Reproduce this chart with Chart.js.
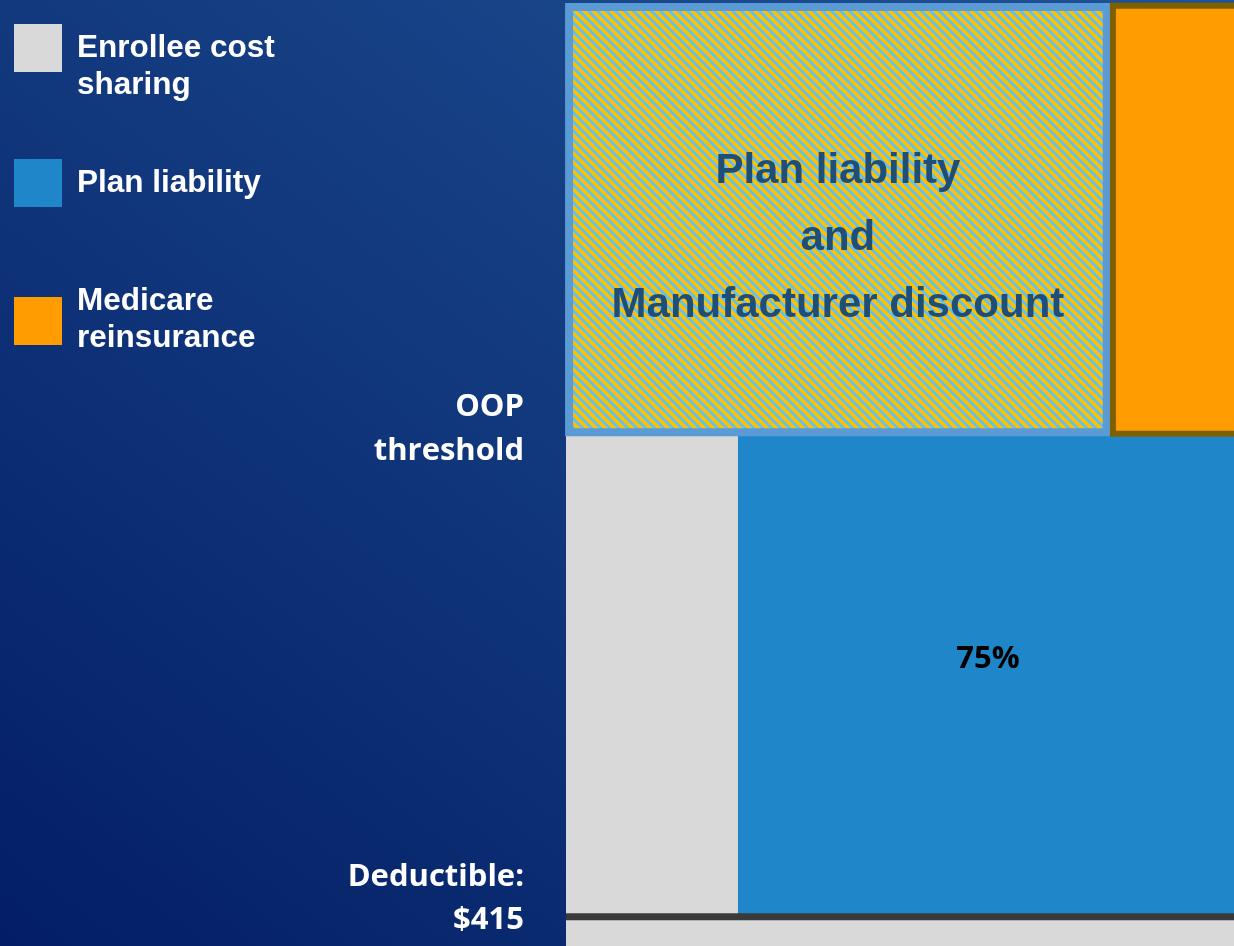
<!DOCTYPE html>
<html><head><meta charset="utf-8">
<script src="https://cdn.jsdelivr.net/npm/chart.js@4.4.1/dist/chart.umd.min.js"></script>
<style>
html,body{margin:0;padding:0;}
body{width:1234px;height:946px;overflow:hidden;position:relative;
 background:linear-gradient(to top right,#031e65 0%,#215396 100%);}
#wrap{position:absolute;left:0;top:0;width:1234px;height:946px;}
#legend{position:absolute;left:0;top:0;font-family:"Liberation Sans",Arial,sans-serif;font-weight:bold;color:#fff;font-size:31.5px;line-height:37px;}
.item{position:absolute;left:14px;}
.box{position:absolute;left:0;top:0;width:48px;height:48px;}
.txt{position:absolute;left:63px;white-space:nowrap;}
</style></head><body>
<div id="wrap"><canvas id="c" width="1234" height="946"></canvas></div>
<div id="legend"></div>
<script>
// ---- data ----
const seriesNames = ["Enrollee cost sharing", "Plan liability", "Medicare reinsurance"];
const legendLines = [["Enrollee cost", "sharing"], ["Plan liability"], ["Medicare", "reinsurance"]];
const seriesColors = ["#d9d9d9", "#1f87c9", "#ff9c00"];
// horizontal axis: share of spending (%), visible part of the slide
const shareAxis = [0, 97.1];
const initialShares = [25, 75];           // enrollee, plan (between deductible and OOP threshold)
// vertical axis: schematic spending levels
const spendAxis = [0, 200];
const tierLevels = [0, 6.2, 107.8];       // bottom, deductible, OOP threshold
const upperBoxX = [0.45, 78.6];           // plan liability + manufacturer discount
const upperBoxY = [108.6, 198.5];
const reinsBoxX = [79.5, 100];            // Medicare reinsurance
const reinsBoxY = [108.3, 198.8];
const tickLabels = [["OOP", "threshold"], ["Deductible:", "$415"]];
const tickLabelLevels = [112.1, 12.7];
const shareLabelLevel = 58.8;
const upperBoxText = ["Plan liability", "and", "Manufacturer discount"];
const upperBoxTextLevel = 161.3;

// ---- legend (HTML) ----
const legendTops = [24, 159, 297];
const legendTextOffsets = [4, 4, -16];
const lg = document.getElementById('legend');
seriesNames.forEach((name, i) => {
  const it = document.createElement('div');
  it.className = 'item'; it.style.top = legendTops[i] + 'px'; it.title = name;
  const b = document.createElement('div'); b.className = 'box'; b.style.background = seriesColors[i];
  const t = document.createElement('div'); t.className = 'txt'; t.style.top = legendTextOffsets[i] + 'px';
  t.innerHTML = legendLines[i].join('<br>');
  it.appendChild(b); it.appendChild(t); lg.appendChild(it);
});

// ---- helpers ----
function rect(x0, x1, y0, y1) {
  return [{x: x0, y: y1}, {x: x1, y: y1}, {x: x1, y: y0}, {x: x0, y: y0}, {x: x0, y: y1}];
}
const canvas = document.getElementById('c');
function makeHatch() {
  const n = 9, c = document.createElement('canvas'); c.width = n; c.height = n;
  const g = c.getContext('2d'); const img = g.createImageData(n, n);
  for (let y = 0; y < n; y++) for (let x = 0; x < n; x++) {
    const k = (((x - y) % n) + n) % n; const p = (y * n + x) * 4;
    const col = k < 4 ? [97, 193, 240] : [255, 192, 0];
    img.data[p] = col[0]; img.data[p + 1] = col[1]; img.data[p + 2] = col[2]; img.data[p + 3] = 255;
  }
  g.putImageData(img, 0, 0);
  return canvas.getContext('2d').createPattern(c, 'repeat');
}
const hatch = makeHatch();

const base = {type: 'line', pointRadius: 0, tension: 0, clip: false, borderJoinStyle: 'miter', borderCapStyle: 'square'};
const datasets = [
  Object.assign({}, base, {label: 'Deductible', data: [{x: 0, y: tierLevels[1]}, {x: 100, y: tierLevels[1]}],
    borderColor: '#3a3a3a', borderWidth: 7, borderCapStyle: 'butt', fill: false}),
  Object.assign({}, base, {label: seriesNames[2], data: rect(reinsBoxX[0], reinsBoxX[1], reinsBoxY[0], reinsBoxY[1]),
    backgroundColor: seriesColors[2], borderColor: '#7f6000', borderWidth: 6, fill: 'shape'}),
  Object.assign({}, base, {label: 'Plan liability and Manufacturer discount', data: rect(upperBoxX[0], upperBoxX[1], upperBoxY[0], upperBoxY[1]),
    backgroundColor: hatch, borderColor: '#5b9bd5', borderWidth: 8, fill: 'shape'}),
  Object.assign({}, base, {label: seriesNames[1], data: rect(initialShares[0], initialShares[0] + initialShares[1], tierLevels[1], tierLevels[2]),
    backgroundColor: seriesColors[1], borderWidth: 0, borderColor: 'transparent', fill: 'shape'}),
  Object.assign({}, base, {label: seriesNames[0], data: rect(0, initialShares[0], tierLevels[1], tierLevels[2]),
    backgroundColor: seriesColors[0], borderWidth: 0, borderColor: 'transparent', fill: 'shape'}),
  Object.assign({}, base, {label: 'Below deductible', data: rect(0, 100, tierLevels[0], tierLevels[1]),
    backgroundColor: seriesColors[0], borderWidth: 0, borderColor: 'transparent', fill: 'shape'})
];

const textPlugin = {
  id: 'texts',
  afterDatasetsDraw(chart) {
    const {ctx, scales: {x, y}} = chart;
    ctx.save();
    ctx.textBaseline = 'alphabetic';
    // level labels
    ctx.fillStyle = '#ffffff'; ctx.textAlign = 'right';
    ctx.font = 'bold 31px "Open Sans"';
    const gaps = [44, 43];
    tickLabels.forEach((lines, i) => {
      const py = y.getPixelForValue(tickLabelLevels[i]);
      lines.forEach((s, j) => ctx.fillText(s, x.left - 42, py + j * gaps[i]));
    });
    // share label
    ctx.fillStyle = '#000000'; ctx.textAlign = 'center';
    ctx.font = 'bold 31px "Open Sans"';
    const sx = (x.getPixelForValue(initialShares[0]) + x.right) / 2 + 2;
    ctx.fillText(initialShares[1] + '%', sx, y.getPixelForValue(shareLabelLevel));
    // hatched box text
    ctx.fillStyle = '#1f4e79';
    ctx.font = 'bold 42px "Liberation Sans", Arial, sans-serif';
    const bx = (x.getPixelForValue(upperBoxX[0]) + x.getPixelForValue(upperBoxX[1])) / 2;
    const by = y.getPixelForValue(upperBoxTextLevel);
    upperBoxText.forEach((s, j) => ctx.fillText(s, bx, by + j * 67));
    ctx.restore();
  }
};

new Chart(canvas, {
  type: 'line',
  data: {datasets},
  options: {
    responsive: false, animation: false, devicePixelRatio: 1,
    layout: {padding: {left: 566, right: 0, top: 0, bottom: 0}},
    scales: {
      x: {type: 'linear', min: shareAxis[0], max: shareAxis[1], display: false},
      y: {type: 'linear', min: spendAxis[0], max: spendAxis[1], display: false}
    },
    plugins: {legend: {display: false}, tooltip: {enabled: false}},
    events: []
  },
  plugins: [textPlugin]
});
</script>
</body></html>
